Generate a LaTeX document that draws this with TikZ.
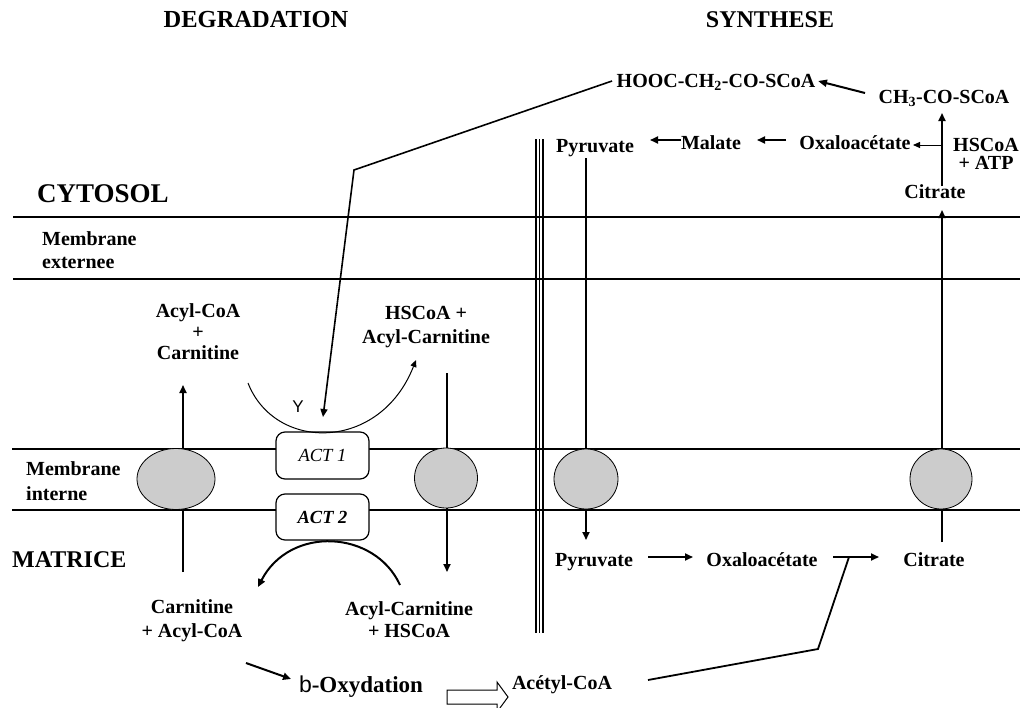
\documentclass[tikz,border=0pt]{standalone}
\usepackage{fontspec}
\setmainfont{Liberation Serif}
\setsansfont{Liberation Sans}
\usetikzlibrary{arrows.meta,shapes.geometric}
\begin{document}
\begin{tikzpicture}[x=1pt,y=-1pt,
  lbl/.style={font=\fontsize{20}{22}\selectfont\bfseries, inner sep=0pt, align=center},
  memline/.style={line width=2pt},
  arr/.style={line width=1.8pt, -{Triangle[length=8pt,width=7pt]}},
  thinarr/.style={line width=1pt, -{Triangle[length=7pt,width=6pt]}},
  plainline/.style={line width=1.8pt},
  porin/.style={draw, line width=0.8pt, fill=gray!40, ellipse, inner sep=0pt},
  actbox/.style={draw, line width=1.2pt, rounded corners=9pt, fill=white, minimum width=93pt, minimum height=46pt, inner sep=0pt, font=\fontsize{18.5}{20}\selectfont\itshape}]
\useasboundingbox (0,0) rectangle (1020,707);
\clip (0,0) rectangle (1020,707);

% membranes
\draw[memline] (13,217) -- (1020,217);
\draw[memline] (13,279) -- (1020,279);
\draw[memline] (12,449) -- (1020,449);
\draw[memline] (12,510) -- (1020,510);

% triple separator
\foreach \xx in {536,539.5,543} \draw[line width=1.2pt] (\xx,139) -- (\xx,633);

% titles and zone labels
\node[lbl, font=\fontsize{24.5}{26}\selectfont\bfseries, anchor=mid] (t1) at (256,25) {DEGRADATION};
\node[lbl, font=\fontsize{24}{26}\selectfont\bfseries, anchor=mid] (t2) at (770,25) {SYNTHESE};
\node[lbl, font=\fontsize{27}{29}\selectfont\bfseries, anchor=mid west] (cyto) at (37,200) {CYTOSOL};
\node[lbl, font=\fontsize{20}{23}\selectfont\bfseries, align=left, anchor=west] (memext) at (42,250) {Membrane\\externee};
\node[lbl, font=\fontsize{20}{25}\selectfont\bfseries, align=left, anchor=west] (memint) at (26,481) {Membrane\\interne};
\node[lbl, font=\fontsize{24}{26}\selectfont\bfseries, anchor=mid west] (matr) at (12,565) {MATRICE};

% synthesis, cytosol side
\node[lbl, anchor=mid] (hooc) at (716,85) {HOOC-CH\textsubscript{2}-CO-SCoA};
\node[lbl, anchor=mid] (ch3) at (944,101) {CH\textsubscript{3}-CO-SCoA};
\node[lbl, anchor=mid] (oxa1) at (855,147) {Oxaloacétate};
\node[lbl, anchor=mid] (mal) at (711,147) {Malate};
\node[lbl, anchor=mid] (pyr1) at (595,150) {Pyruvate};
\node[lbl, font=\fontsize{20}{18.5}\selectfont\bfseries] (hsatp) at (986,154) {HSCoA\\+ ATP};
\node[lbl, anchor=mid] (cit1) at (935,196) {Citrate};

\coordinate (c1a) at (942,186); \coordinate (c1b) at (942,113);
\coordinate (c1m) at (942,145); \coordinate (oxr) at (913,145);
\draw[arr] (c1a) -- (c1b);
\draw[thinarr] (c1m) -- (oxr);
\draw[line width=2pt, -{Triangle[length=9pt,width=7pt]}] (865,93) -- (818,81);
\draw[arr] (786,140) -- (757,140);
\draw[arr] (681,140) -- (650,140);

% degradation labels
\node[lbl, font=\fontsize{20}{21}\selectfont\bfseries] (acyl1) at (198,332) {Acyl-CoA\\+\\Carnitine};
\node[lbl, font=\fontsize{20}{24}\selectfont\bfseries] (hsc1) at (426,327) {HSCoA +\\Acyl-Carnitine};
\node[lbl, font=\fontsize{20}{24}\selectfont\bfseries] (carn2) at (192,621) {Carnitine\\+ Acyl-CoA};
\node[lbl, font=\fontsize{20}{22}\selectfont\bfseries] (acylc2) at (409,620) {Acyl-Carnitine\\+ HSCoA};
\node[font=\sffamily\fontsize{17}{18}\selectfont, inner sep=0pt] (ylab) at (298,407) {Y};

% vertical transports
\coordinate (v1a) at (183,572); \coordinate (v1b) at (183,385);
\coordinate (v2a) at (447,373); \coordinate (v2b) at (447,572);
\coordinate (v3a) at (586,158); \coordinate (v3b) at (586,540);
\coordinate (v4a) at (942,542); \coordinate (v4b) at (942,210);
\draw[arr] (v1a) -- (v1b);
\draw[arr] (v2a) -- (v2b);
\draw[arr] (v3a) -- (v3b);
\draw[arr] (v4a) -- (v4b);

% porins
\node[porin, minimum width=78pt, minimum height=61pt] (p1) at (176,479) {};
\node[porin, minimum width=63pt, minimum height=60pt] (p2) at (446,478) {};
\node[porin, minimum width=64pt, minimum height=60pt] (p3) at (586,479) {};
\node[porin, minimum width=62pt, minimum height=60pt] (p4) at (941,479) {};

% ACT boxes
\node[actbox, minimum height=47pt] (act1) at (322.5,455.5) {ACT 1};
\node[actbox, font=\fontsize{18.5}{20}\selectfont\bfseries\itshape] (act2) at (322.5,517) {ACT 2};

% arcs
\draw[line width=1pt, -{Triangle[length=7pt,width=6pt]}] (248,383) .. controls (275,452) and (380,452) .. (416,360);
\draw[line width=2pt, -{Triangle[length=8pt,width=7pt]}] (400,585) .. controls (375,530) and (290,525) .. (258,587);

% malonyl-CoA line to ACT 1
\coordinate (m0) at (612,81); \coordinate (m1) at (354,170); \coordinate (m2) at (323,417);
\draw[line width=1.6pt, -{Triangle[length=8pt,width=7pt]}] (m0) -- (m1) -- (m2);

% matrix side synthesis
\node[lbl, anchor=mid] (pyr2) at (594,564) {Pyruvate};
\node[lbl, anchor=mid] (oxa2) at (762,564) {Oxaloacétate};
\node[lbl, anchor=mid] (cit2) at (934,564) {Citrate};
\draw[arr] (648,557) -- (693,557);
\draw[arr] (833,557) -- (879,557);

% beta-oxidation
\node[lbl, font=\fontsize{23}{25}\selectfont\bfseries, anchor=mid] (boxy) at (361,690) {{\sffamily\mdseries b}-Oxydation};
\node[lbl, anchor=mid] (acet) at (562,687) {Acétyl-CoA};
\draw[line width=2pt, -{Triangle[length=8pt,width=7pt]}] (246,663) -- (291,679);
\draw[line width=1pt, fill=white] (447,690) -- (497,690) -- (497,682) -- (508,697) -- (497,712) -- (497,704) -- (447,704) -- cycle;
\coordinate (a0) at (648,680); \coordinate (a1) at (818,649); \coordinate (a2) at (849,557);
\draw[plainline] (a0) -- (a1) -- (a2);
\end{tikzpicture}
\end{document}
